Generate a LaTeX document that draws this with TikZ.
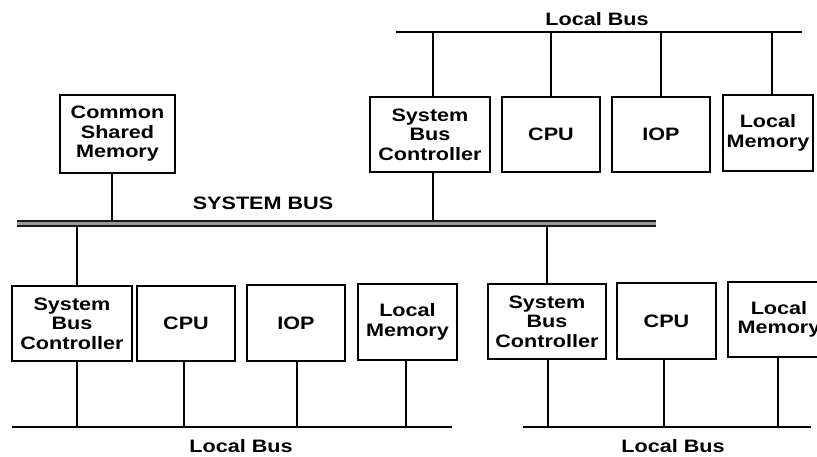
\documentclass[tikz,border=0pt]{standalone}
\usepackage{fontspec}
\setmainfont[FakeStretch=1.2]{Liberation Sans}
\begin{document}
\begin{tikzpicture}[x=1pt,y=-1pt,
  box/.style={draw=black,line width=2.4pt,fill=white,align=center,inner sep=0pt,
    font=\bfseries\fontsize{18}{19.5}\selectfont},
  lbl/.style={font=\bfseries\fontsize{18}{19.5}\selectfont,inner sep=0pt},
  wire/.style={line width=2.4pt,black},
  sysband/.style={line width=6.5pt,black!40},
  sysbus/.style={line width=1.9pt,black!90}]
\useasboundingbox (0,0) rectangle (817,457);
\clip (0,0) rectangle (817,457);
% top local bus
\coordinate (tlbL) at (396,32);
\coordinate (tlbR) at (802,32);
\draw[wire] (tlbL) -- (tlbR);
\node[lbl] (tlbt) at (597,19) {Local Bus};
% top boxes
\node[box,minimum width=115,minimum height=78] (csm) at (117.5,134) {Common\\Shared\\Memory};
\node[box,minimum width=120,minimum height=75] (tsbc) at (430,134.5) {System\\Bus\\Controller};
\node[box,minimum width=98,minimum height=75] (tcpu) at (551,134.5) {CPU};
\node[box,minimum width=98,minimum height=75] (tiop) at (661,134.5) {IOP};
\node[box,minimum width=90,minimum height=76] (tlm) at (768,133) {Local\\Memory};
\coordinate (t1) at (433,32);
\coordinate (t2) at (551,32);
\coordinate (t3) at (661,32);
\coordinate (t4) at (772,32);
\draw[wire] (t1) -- (t1 |- tsbc.north);
\draw[wire] (t2) -- (t2 |- tcpu.north);
\draw[wire] (t3) -- (t3 |- tiop.north);
\draw[wire] (t4) -- (t4 |- tlm.north);
% system bus
\coordinate (sbL0) at (17,223.5);
\coordinate (sbR0) at (656,223.5);
\coordinate (sbL1) at (17,221.3);
\coordinate (sbR1) at (656,221.3);
\coordinate (sbL2) at (17,225.8);
\coordinate (sbR2) at (656,225.8);
\draw[sysband] (sbL0) -- (sbR0);
\draw[sysbus] (sbL1) -- (sbR1);
\draw[sysbus] (sbL2) -- (sbR2);
\node[lbl] (sbt) at (263,203) {SYSTEM BUS};
\coordinate (s1) at (112,220.5);
\coordinate (s2) at (433,220.5);
\draw[wire] (csm.south -| s1) -- (s1);
\draw[wire] (tsbc.south -| s2) -- (s2);
% lower left group
\node[box,minimum width=120,minimum height=75] (lsbc) at (72,323.5) {System\\Bus\\Controller};
\node[box,minimum width=98,minimum height=75] (lcpu) at (186,323.5) {CPU};
\node[box,minimum width=98,minimum height=76] (liop) at (296,323) {IOP};
\node[box,minimum width=99,minimum height=76] (llm) at (407.5,322) {Local\\Memory};
\coordinate (u1) at (77,226.5);
\draw[wire] (u1) -- (u1 |- lsbc.north);
\coordinate (llbL) at (12,427);
\coordinate (llbR) at (452,427);
\draw[wire] (llbL) -- (llbR);
\coordinate (l1) at (77,427);
\coordinate (l2) at (184,427);
\coordinate (l3) at (297,427);
\coordinate (l4) at (406,427);
\draw[wire] (lsbc.south -| l1) -- (l1);
\draw[wire] (lcpu.south -| l2) -- (l2);
\draw[wire] (liop.south -| l3) -- (l3);
\draw[wire] (llm.south -| l4) -- (l4);
\node[lbl] (llbt) at (241,446) {Local Bus};
% lower right group
\node[box,minimum width=118,minimum height=75] (rsbc) at (547,321.5) {System\\Bus\\Controller};
\node[box,minimum width=99,minimum height=76] (rcpu) at (666.5,321) {CPU};
\node[box,minimum width=102,minimum height=75] (rlm) at (779,319.5) {Local\\Memory};
\coordinate (u2) at (547,226.5);
\draw[wire] (u2) -- (u2 |- rsbc.north);
\coordinate (rlbL) at (523,427);
\coordinate (rlbR) at (811,427);
\draw[wire] (rlbL) -- (rlbR);
\coordinate (r1) at (548,427);
\coordinate (r2) at (664,427);
\coordinate (r3) at (778,427);
\draw[wire] (rsbc.south -| r1) -- (r1);
\draw[wire] (rcpu.south -| r2) -- (r2);
\draw[wire] (rlm.south -| r3) -- (r3);
\node[lbl] (rlbt) at (673,446) {Local Bus};
\end{tikzpicture}
\end{document}
